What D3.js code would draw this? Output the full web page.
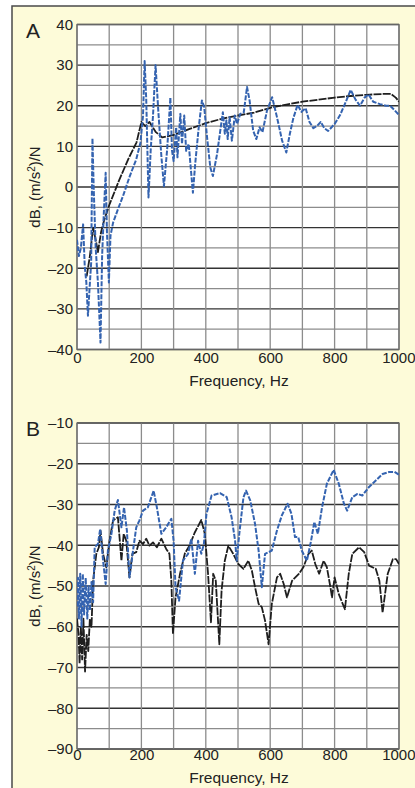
<!DOCTYPE html>
<html>
<head>
<meta charset="utf-8">
<script src="https://cdn.jsdelivr.net/npm/d3@7"></script>
<style>
  body { margin: 0; background: #fff; }
  svg { display: block; font-family: "Liberation Sans", Arial, Helvetica, sans-serif; }
  .tick text { font-size: 15px; fill: #222; }
  .domain { display: none; }
</style>
</head>
<body>
<svg width="415" height="788"></svg>
<script>
// ---- data ----
var freqTicks = [0, 200, 400, 600, 800, 1000];
var ticksA = [-40, -30, -20, -10, 0, 10, 20, 30, 40];
var ticksB = [-90, -80, -70, -60, -50, -40, -30, -20, -10];

// panel A, blue (measured) curve
var aBlueF = [0, 6, 12, 19, 24, 29, 34, 39, 44, 48, 52, 58, 65, 73, 78, 83, 89, 93, 99, 104, 112, 127, 143, 164, 184, 197, 205, 210, 215, 222, 229, 236, 244, 252, 262, 270, 280, 290, 295, 300, 308, 312, 321, 326, 333, 339, 347, 354, 360, 367, 378, 388, 395, 404, 414, 422, 435, 445, 453, 459, 464, 468, 474, 481, 490, 497, 507, 518, 528, 536, 547, 557, 567, 576, 590, 606, 621, 637, 650, 661, 672, 685, 697, 710, 722, 734, 745, 757, 768, 780, 800, 817, 835, 850, 865, 879, 893, 905, 920, 941, 960, 972, 985, 1000];
var aBlueDb = [-13, -17, -15, -9.2, -19.4, -23.5, -31.7, -25, -18.6, 12, -0.6, -15, -23.5, -38.3, -17, -7, 3.5, -11, -23.5, -12, -8.8, -5.5, -2.2, 2.7, 6.8, 10.9, 17.5, 31, 21.6, -2.6, 9.3, 17.5, 30, 19.3, 7.6, 0.2, 9.3, 22, 9, 6.4, 14.7, 7.3, 18, 10.6, 17.6, 8.9, 10.6, 4, -1.4, 5.6, 14.7, 21.3, 19.7, 12.2, 4.8, 2.7, 8.1, 13.9, 18.4, 13.1, 16.4, 11.8, 17.2, 11.4, 17.6, 15.5, 18, 18.4, 24.6, 21.3, 13.9, 11.8, 14.7, 13.5, 18.8, 22.1, 17.2, 11.4, 8.5, 13.1, 17, 20.2, 18.5, 19.4, 16, 14.5, 15, 16, 14.5, 13.8, 15.5, 17.7, 21, 23.9, 21.5, 20, 22, 22.8, 21, 20.4, 20, 20, 19, 17.7];

// panel A, black (model) curve
var aBlackF = [30, 40, 50, 58, 65, 75, 85, 100, 130, 160, 185, 200, 212, 225, 245, 265, 300, 350, 400, 450, 500, 550, 600, 650, 700, 750, 800, 850, 900, 950, 975, 990, 1000];
var aBlackDb = [-22, -17, -10, -13, -16, -11, -8, -4.5, 1.5, 7, 11, 16, 15, 16, 13.5, 12.2, 12.8, 14.3, 15.7, 16.8, 17.6, 18.3, 19.5, 20.3, 21, 21.5, 22, 22.4, 22.7, 22.9, 22.9, 22, 21];

// panel B, blue curve
var bBlueF = [0, 3, 6, 10, 14, 18, 22, 27, 32, 36, 40, 45, 50, 55, 65, 72, 81, 89, 96, 107, 117, 127, 138, 146, 155, 163, 174, 184, 194, 205, 220, 238, 248, 262, 277, 293, 300, 306, 317, 329, 345, 355, 366, 376, 386, 394, 402, 418, 444, 465, 480, 491, 496, 504, 517, 525, 538, 553, 564, 574, 584, 595, 605, 621, 636, 654, 666, 677, 687, 698, 714, 727, 737, 748, 761, 776, 797, 813, 829, 839, 855, 871, 886, 907, 928, 949, 970, 986, 1000];
var bBlueDb = [-55, -48, -58, -47, -60, -47, -57, -48, -58, -50, -56, -49, -54, -40.5, -39.7, -36, -43.8, -49.5, -41.3, -37.2, -31.5, -28.9, -35.6, -30.7, -36.4, -47.9, -41.3, -35.6, -33.9, -31.5, -30.7, -26.6, -30.7, -37.2, -35.6, -33.5, -38.9, -50.3, -53.6, -43.8, -42.1, -38.4, -47, -38.9, -42.1, -39.7, -32.3, -27.8, -27.2, -28.2, -33.1, -38.9, -43.8, -37.2, -28.2, -26.6, -29, -34.8, -41.3, -50.3, -42.1, -41.7, -41.3, -36.4, -32.7, -29.8, -32.3, -38, -38, -41.3, -43.8, -38.9, -34.3, -37.2, -30.7, -24.9, -21.5, -24.9, -29.8, -31.5, -28.2, -27.4, -27.8, -25.7, -24.1, -22.5, -22, -22, -22.7];

// panel B, black curve
var bBlackF = [0, 5, 8, 12, 16, 20, 25, 30, 35, 40, 45, 50, 60, 68, 73, 81, 91, 101, 112, 127, 138, 145, 153, 163, 172, 184, 194, 205, 215, 225, 236, 248, 262, 277, 287, 293, 298, 306, 320, 335, 350, 365, 386, 397, 407, 416, 423, 431, 442, 449, 459, 470, 485, 501, 517, 532, 543, 553, 564, 574, 584, 595, 605, 621, 631, 642, 652, 668, 689, 703, 719, 729, 740, 752, 766, 776, 787, 792, 800, 813, 832, 844, 855, 876, 892, 907, 928, 939, 949, 965, 981, 991, 1000];
var bBlackDb = [-58, -62, -69, -60, -68, -58, -71, -62, -66, -58, -60, -48.7, -42.1, -40.5, -36.4, -42.1, -45.4, -38.9, -33.9, -33.1, -43.8, -37.2, -38.9, -47.9, -42.1, -41.7, -38.9, -39.7, -38.4, -40.1, -39.3, -40.5, -38.4, -40.9, -42.1, -48.7, -61.8, -52.8, -47, -42, -40, -37, -33.8, -37.2, -47, -58.9, -47, -48.7, -64.3, -51.1, -43.8, -40.1, -42.1, -44.6, -45.8, -43.8, -46.2, -50.3, -54.4, -55.2, -58.5, -64.3, -54.4, -47.9, -47, -49.5, -52.8, -48.7, -47, -45.4, -42.1, -41.3, -44.6, -47, -43.8, -45.4, -50.3, -52.8, -47.9, -52, -55.7, -47, -42.1, -40.5, -41.7, -45, -45.8, -48.7, -56.5, -47, -43.4, -43.4, -44.6];

var panels = [
    { label: "A", top: 24.5, bottom: 349.5, domain: [-40, 40], ticks: ticksA, xTickPad: 3,
      series: [[aBlackF, aBlackDb, "black"], [aBlueF, aBlueDb, "blue"]], titleY: 386 },
    { label: "B", top: 423, bottom: 749, domain: [-90, -10], ticks: ticksB, xTickPad: 0,
      series: [[bBlackF, bBlackDb, "black"], [bBlueF, bBlueDb, "blue"]], titleY: 783 }
];

var svg = d3.select("svg");
var left = 77, right = 399;

// yellow backing frame
svg.append("rect")
    .attr("x", 12).attr("y", 6)
    .attr("width", 430).attr("height", 800)
    .attr("fill", "#fdfbd9")
    .attr("stroke", "#4a4a4a")
    .attr("stroke-width", 1.5);

function dashFmt(d) {
    return d < 0 ? "\u2013" + Math.abs(d) : String(d);
}

panels.forEach(function (p, idx) {
    var x = d3.scaleLinear().domain([0, 1000]).range([left, right]);
    var y = d3.scaleLinear().domain(p.domain).range([p.bottom, p.top]);
    var g = svg.append("g");

    g.append("rect")
        .attr("x", left).attr("y", p.top)
        .attr("width", right - left).attr("height", p.bottom - p.top)
        .attr("fill", "#fff");

    // grid
    var hv = d3.range(p.domain[0], p.domain[1] + 0.1, 5);
    g.selectAll(".hg").data(hv).enter().append("line")
        .attr("x1", left).attr("x2", right)
        .attr("y1", d => y(d)).attr("y2", d => y(d))
        .attr("stroke", d => d % 10 === 0 ? "#333" : "#8c8c8c")
        .attr("stroke-width", d => d % 10 === 0 ? 1.4 : 1.2);
    g.selectAll(".vg").data(d3.range(0, 1001, 100)).enter().append("line")
        .attr("x1", d => x(d)).attr("x2", d => x(d))
        .attr("y1", p.top).attr("y2", p.bottom)
        .attr("stroke", "#8c8c8c")
        .attr("stroke-width", 1.3);
    g.append("rect")
        .attr("x", left).attr("y", p.top)
        .attr("width", right - left).attr("height", p.bottom - p.top)
        .attr("fill", "none").attr("stroke", "#666").attr("stroke-width", 1.2);

    // curves
    var clipId = "clip" + idx;
    svg.append("clipPath").attr("id", clipId).append("rect")
        .attr("x", left).attr("y", p.top)
        .attr("width", right - left).attr("height", p.bottom - p.top);
    var line = d3.line().x(d => x(d[0])).y(d => y(d[1]));
    p.series.forEach(function (s) {
        var pts = s[0].map((f, i) => [f, s[1][i]]);
        g.append("path")
            .datum(pts)
            .attr("clip-path", "url(#" + clipId + ")")
            .attr("fill", "none")
            .attr("stroke", s[2] === "blue" ? "#3463b0" : "#1e1e1e")
            .attr("stroke-width", s[2] === "blue" ? 2 : 1.8)
            .attr("stroke-dasharray", s[2] === "blue" ? "5,1.5" : "8,1.2")
            .attr("stroke-linejoin", "round")
            .attr("d", line);
    });

    // axes
    g.append("g")
        .attr("transform", "translate(" + (left - 1) + ",0)")
        .call(d3.axisLeft(y).tickValues(p.ticks).tickSize(0).tickPadding(3).tickFormat(dashFmt));
    var xa = g.append("g")
        .attr("transform", "translate(0," + p.bottom + ")")
        .call(d3.axisBottom(x).tickValues(freqTicks).tickSize(0).tickPadding(p.xTickPad).tickFormat(d3.format("d")));
    // last label sits against the right edge
    xa.selectAll(".tick text").filter(d => d === 1000).attr("text-anchor", "end").attr("x", 415 - right);

    // panel letter
    g.append("text")
        .attr("x", 26).attr("y", p.top + 13)
        .attr("font-size", 21)
        .attr("fill", "#222")
        .text(p.label);

    // axis titles
    g.append("text")
        .attr("x", (left + right) / 2 + 1).attr("y", p.titleY)
        .attr("text-anchor", "middle")
        .attr("font-size", 15.5)
        .attr("fill", "#222")
        .text("Frequency, Hz");

    var yt = g.append("text")
        .attr("transform", "translate(40," + ((p.top + p.bottom) / 2) + ") rotate(-90)")
        .attr("text-anchor", "middle")
        .attr("font-size", 15)
        .attr("fill", "#222");
    yt.append("tspan").text("dB, (m/s");
    yt.append("tspan").attr("font-size", 10).attr("dy", -5).text("2");
    yt.append("tspan").attr("dy", 5).text(")/N");
});
</script>
</body>
</html>
